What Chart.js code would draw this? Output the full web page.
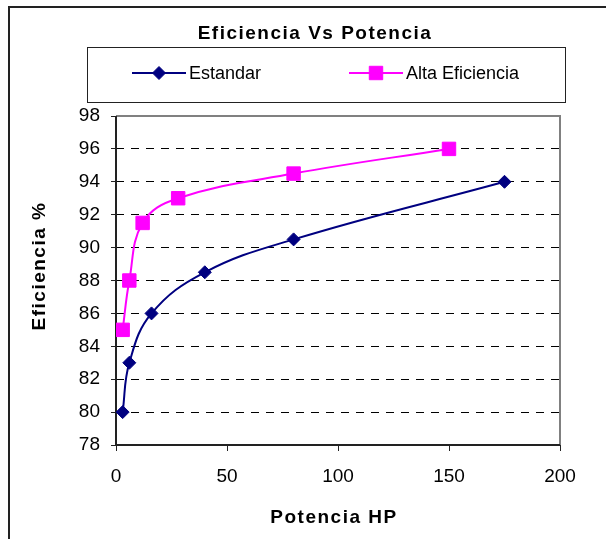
<!DOCTYPE html>
<html>
<head>
<meta charset="utf-8">
<script src="https://cdn.jsdelivr.net/npm/chart.js@4/dist/chart.umd.min.js"></script>
<style>
  html, body { margin: 0; padding: 0; background: #ffffff; }
  canvas { display: block; }
</style>
</head>
<body>
<canvas id="chart" width="606" height="539"></canvas>
<script>
// Texts
const chartTitle = 'Eficiencia Vs Potencia';
const xAxisTitle = 'Potencia HP';
const yAxisTitle = 'Eficiencia %';
const seriesNames = ['Estandar', 'Alta Eficiencia'];

// Motor power (HP) and efficiency (%) per series
const estandarHP  = [3, 6, 16, 40, 80, 175];
const estandarEff = [80, 83, 86, 88.5, 90.5, 94];
const altaHP      = [3, 6, 12, 28, 80, 150];
const altaEff     = [85, 88, 91.5, 93, 94.5, 96];

// Axis ticks
const xTicks = [0, 50, 100, 150, 200];
const yTicks = [78, 80, 82, 84, 86, 88, 90, 92, 94, 96, 98];

const NAVY = '#000080';
const MAGENTA = '#ff00ff';
const FONT = '"Liberation Sans", Arial, sans-serif';

const toPoints = (xs, ys) => xs.map((x, i) => ({ x: x, y: ys[i] }));

// Frame, outer border, title, legend box and axis titles
const decorations = {
  id: 'decorations',
  beforeDatasetsDraw(chart) {
    const { ctx, chartArea: a } = chart;
    ctx.save();
    ctx.lineWidth = 2;
    ctx.strokeStyle = '#808080';
    ctx.beginPath();
    ctx.moveTo(a.left, a.top);
    ctx.lineTo(a.right, a.top);
    ctx.lineTo(a.right, a.bottom);
    ctx.stroke();
    ctx.strokeStyle = '#222222';
    ctx.beginPath();
    ctx.moveTo(a.left, a.top);
    ctx.lineTo(a.left, a.bottom);
    ctx.lineTo(a.right, a.bottom);
    ctx.stroke();
    ctx.restore();
  },
  afterDraw(chart) {
    const { ctx } = chart;
    ctx.save();

    // outer chart border
    ctx.lineWidth = 2;
    ctx.strokeStyle = '#222222';
    ctx.beginPath();
    ctx.moveTo(9, 539);
    ctx.lineTo(9, 7);
    ctx.lineTo(606, 7);
    ctx.stroke();

    // bold texts
    ctx.fillStyle = '#000000';
    ctx.font = 'bold 19px ' + FONT;
    ctx.letterSpacing = '1.5px';
    ctx.textAlign = 'center';
    ctx.textBaseline = 'alphabetic';
    ctx.fillText(chartTitle, 315, 39);
    ctx.fillText(xAxisTitle, 334, 523);
    ctx.save();
    ctx.translate(45, 266);
    ctx.rotate(-Math.PI / 2);
    ctx.fillText(yAxisTitle, 0, 0);
    ctx.restore();
    ctx.letterSpacing = '0px';

    // legend box
    ctx.lineWidth = 1;
    ctx.strokeStyle = '#222222';
    ctx.strokeRect(87.5, 47.5, 478, 55);

    const ly = 73;
    const entries = [
      { x1: 132, x2: 186, tx: 189, ds: chart.data.datasets[0] },
      { x1: 349, x2: 403, tx: 406, ds: chart.data.datasets[1] }
    ];
    ctx.font = '18px ' + FONT;
    ctx.textAlign = 'left';
    ctx.textBaseline = 'middle';
    entries.forEach(e => {
      ctx.strokeStyle = e.ds.borderColor;
      ctx.lineWidth = 2;
      ctx.beginPath();
      ctx.moveTo(e.x1, ly);
      ctx.lineTo(e.x2, ly);
      ctx.stroke();
      ctx.fillStyle = e.ds.backgroundColor;
      ctx.lineWidth = 1;
      Chart.helpers.drawPoint(ctx, {
        pointStyle: e.ds.pointStyle,
        radius: e.ds.pointRadius,
        borderWidth: 1,
        rotation: 0
      }, (e.x1 + e.x2) / 2, ly);
      ctx.fillStyle = '#000000';
      ctx.fillText(e.ds.label, e.tx, ly + 1);
    });
    ctx.restore();
  }
};

new Chart(document.getElementById('chart'), {
  type: 'line',
  data: {
    datasets: [
      {
        label: seriesNames[0],
        data: toPoints(estandarHP, estandarEff),
        borderColor: NAVY,
        backgroundColor: NAVY,
        borderWidth: 2,
        pointStyle: 'rectRot',
        pointRadius: 6.5,
        pointBorderWidth: 1,
        tension: 0.4
      },
      {
        label: seriesNames[1],
        data: toPoints(altaHP, altaEff),
        borderColor: MAGENTA,
        backgroundColor: MAGENTA,
        borderWidth: 2,
        pointStyle: 'rect',
        pointRadius: 9.5,
        pointBorderWidth: 1,
        tension: 0.4
      }
    ]
  },
  options: {
    responsive: false,
    animation: false,
    devicePixelRatio: 1,
    layout: { padding: { left: 0, top: 116, right: 46, bottom: 0 } },
    plugins: {
      legend: { display: false },
      title: { display: false },
      tooltip: { enabled: false }
    },
    scales: {
      x: {
        type: 'linear',
        min: xTicks[0],
        max: xTicks[xTicks.length - 1],
        afterBuildTicks: s => { s.ticks = xTicks.map(v => ({ value: v })); },
        afterFit: s => { s.height = 94; },
        grid: {
          drawOnChartArea: false,
          drawTicks: true,
          tickLength: 6,
          tickColor: '#222222',
          tickWidth: 1
        },
        border: { display: false },
        ticks: {
          color: '#000000',
          font: { family: FONT, size: 19 },
          padding: 14,
          maxRotation: 0
        }
      },
      y: {
        type: 'linear',
        min: yTicks[0],
        max: yTicks[yTicks.length - 1],
        afterBuildTicks: s => { s.ticks = yTicks.map(v => ({ value: v })); },
        afterFit: s => { s.width = 116; },
        grid: {
          color: c => (c.tick && (c.tick.value === yTicks[0] || c.tick.value === yTicks[yTicks.length - 1])) ? 'rgba(0,0,0,0)' : '#000000',
          lineWidth: 1,
          drawTicks: true,
          tickLength: 5,
          tickColor: '#222222',
          tickWidth: 1
        },
        border: { display: false, dash: [8, 7] },
        ticks: {
          color: '#000000',
          font: { family: FONT, size: 19 },
          padding: 11
        }
      }
    }
  },
  plugins: [decorations]
});
</script>
</body>
</html>
